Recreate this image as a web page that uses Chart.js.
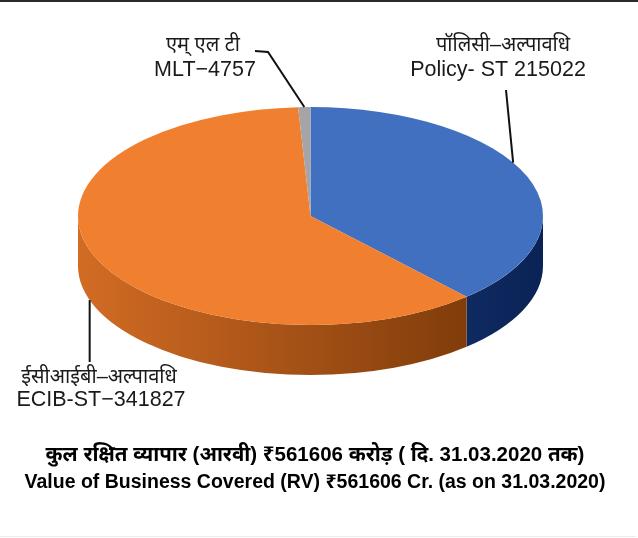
<!DOCTYPE html>
<html><head><meta charset="utf-8">
<script src="https://cdn.jsdelivr.net/npm/chart.js@4"></script>
<style>
html,body{margin:0;padding:0;background:#fff;}
#wrap{position:relative;width:638px;height:538px;overflow:hidden;}
#topline{position:absolute;left:0;top:0;width:638px;height:2px;background:#2b2b2b;}
#botline{position:absolute;left:0;top:536px;width:636px;height:1px;background:#ebebeb;}
canvas{position:absolute;left:0;top:0;}
</style></head><body>
<div id="wrap"><canvas id="c" width="638" height="538"></canvas><div id="topline"></div><div id="botline"></div></div>
<script>
// ---- data ----
const categories = ['Policy-ST', 'ECIB-ST', 'MLT'];
const values = [215022, 341827, 4757];
const labelsHindi = ['पॉलिसी–अल्पावधि', 'ईसीआईबी–अल्पावधि', 'एम् एल टी'];
const labelsEnglish = ['Policy- ST 215022', 'ECIB-ST−341827', 'MLT−4757'];
const titleHindi = 'कुल रक्षित व्यापार (आरवी) ₹561606 करोड़ ( दि. 31.03.2020 तक)';
const titleEnglish = 'Value of Business Covered (RV) ₹561606 Cr. (as on 31.03.2020)';

// ---- styles ----
const topColors = ['#4070bf', '#f07f2f', '#a5a5a5'];
const sideLeftColors = ['#2a4f9a', '#d26c24', '#8a8a8a'];
const sideRightColors = ['#0a2356', '#713306', '#5a5a5a'];
const PIE = {cx: 310.5, cy: 216, rx: 232.5, ry: 109, depth: 50};
const FONT = '"Liberation Sans", Arial, "Noto Sans", sans-serif';
// label layout: anchor fraction along slice, rim (top/bottom), text centres, leader path
const labelLayout = [
  {frac: 0.44, bottom: false, hi: [503, 45], en: [498, 70], path: [[506, 90]]},
  {frac: 0.52, bottom: true,  hi: [99, 377], en: [101, 400], path: 'vertical', endY: 362},
  {frac: 0.5,  bottom: false, hi: [203, 45], en: [205, 70], path: [[268, 52], [255, 51]]}
];

function rimPoint(a, bottom) {
  return [PIE.cx + PIE.rx * Math.cos(a), PIE.cy + PIE.ry * Math.sin(a) + (bottom ? PIE.depth : 0)];
}

const pie3d = {
  id: 'pie3d',
  beforeDatasetsDraw(chart) {
    const ctx = chart.ctx;
    const meta = chart.getDatasetMeta(0);
    const a0 = meta.data[0];
    const R = a0.outerRadius, ox = a0.x, oy = a0.y;
    const sx = PIE.rx / R, sy = PIE.ry / R;
    const d = PIE.depth / sy;
    ctx.save();
    ctx.translate(PIE.cx, PIE.cy);
    ctx.scale(sx, sy);
    meta.data.forEach((arc, i) => {
      const s = Math.max(arc.startAngle, 0), e = Math.min(arc.endAngle, Math.PI);
      if (e <= s) return;
      const g = ctx.createLinearGradient(-R, 0, R, 0);
      g.addColorStop(0, sideLeftColors[i]);
      g.addColorStop(1, sideRightColors[i]);
      ctx.beginPath();
      ctx.arc(0, 0, R, s, e);
      ctx.arc(0, d, R, e, s, true);
      ctx.closePath();
      ctx.fillStyle = g;
      ctx.fill();
    });
    ctx.restore();
    ctx.save();
    ctx.translate(PIE.cx, PIE.cy);
    ctx.scale(sx, sy);
    ctx.translate(-ox, -oy);
  },
  afterDatasetsDraw(chart) {
    chart.ctx.restore();
  },
  afterDraw(chart) {
    const ctx = chart.ctx;
    const meta = chart.getDatasetMeta(0);
    ctx.save();
    ctx.strokeStyle = '#111';
    ctx.lineWidth = 2;
    ctx.fillStyle = '#1a1a1a';
    ctx.textAlign = 'center';
    ctx.textBaseline = 'middle';
    meta.data.forEach((arc, i) => {
      const L = labelLayout[i];
      const a = arc.startAngle + L.frac * (arc.endAngle - arc.startAngle);
      const p = rimPoint(a, L.bottom);
      ctx.beginPath();
      ctx.moveTo(p[0], p[1]);
      if (L.path === 'vertical') {
        ctx.lineTo(p[0], L.endY);
      } else {
        L.path.forEach(q => ctx.lineTo(q[0], q[1]));
      }
      ctx.stroke();
      ctx.font = '20px ' + FONT;
      ctx.fillText(labelsHindi[i], L.hi[0], L.hi[1]);
      ctx.font = '21.5px ' + FONT;
      ctx.fillText(labelsEnglish[i], L.en[0], L.en[1]);
    });
    ctx.restore();
  }
};

new Chart(document.getElementById('c'), {
  type: 'pie',
  data: {
    labels: categories,
    datasets: [{data: values, backgroundColor: topColors, borderWidth: 0, clip: false}]
  },
  options: {
    responsive: false,
    devicePixelRatio: 1,
    animation: false,
    events: [],
    layout: {padding: {top: 20, left: 12, right: 20, bottom: 45}},
    plugins: {
      legend: {display: false},
      tooltip: {enabled: false},
      title: {display: true, position: 'bottom', text: titleEnglish, color: '#000',
        font: {family: FONT, size: 19.5, weight: 'bold', lineHeight: '20px'}, padding: 0},
      subtitle: {display: true, position: 'bottom', text: titleHindi, color: '#000',
        font: {family: FONT, size: 20.5, weight: 'bold', lineHeight: '20px'}, padding: {top: 0, bottom: 8}}
    }
  },
  plugins: [pie3d]
});
</script>
</body></html>
